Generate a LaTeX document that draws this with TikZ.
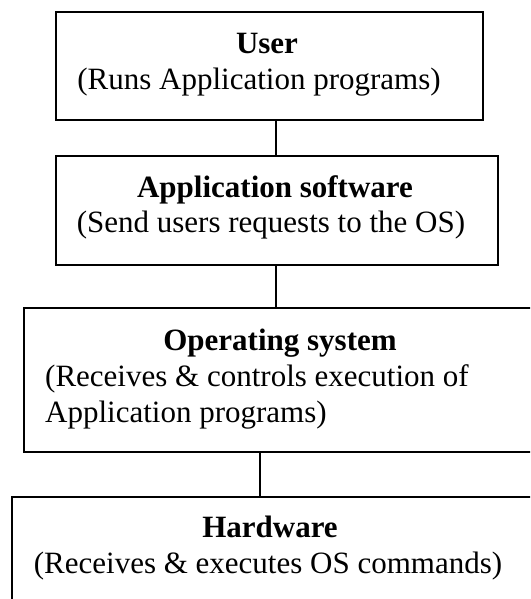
\documentclass[tikz,border=0pt]{standalone}
\usepackage{fontspec}
\setmainfont{Liberation Serif}
\usepackage{tikz}
\usetikzlibrary{positioning}

\begin{document}
\begin{tikzpicture}[
  x=1pt, y=-1pt,
  every node/.style={font=\fontsize{31}{36}\selectfont, inner sep=0pt},
  box/.style={draw, line width=1.6pt, anchor=north west, minimum width=#1},
  head/.style={font=\fontsize{31}{36}\selectfont\bfseries, anchor=base},
  note/.style={anchor=base},
  link/.style={line width=1.6pt}
]
\useasboundingbox (0,0) rectangle (530,599);
\clip (0,0) rectangle (530,599);
% boxes
\node[box=427pt, minimum height=108pt] (user) at (55,11)  {};
\node[box=442pt, minimum height=109pt] (app)  at (55,155) {};
\node[box=530pt, minimum height=144pt] (os)   at (23,307) {};
\node[box=545pt, minimum height=130pt] (hw)   at (11,496) {};
% texts
\node[head] (usert) at (267,54)  {User};
\node[note] (users) at (259,90)  {(Runs Application programs)};
\node[head] (appt)  at (275,197) {Application software};
\node[note] (apps)  at (271,232) {(Send users requests to the OS)};
\node[head] (ost)   at (280,350) {Operating system};
\node[note, anchor=base west] (osa) at (45,386) {(Receives \& controls execution of};
\node[note, anchor=base west] (osb) at (45,422) {Application programs)};
\node[head] (hwt)   at (270,537) {Hardware};
\node[note] (hws)   at (268,573) {(Receives \& executes OS commands)};
% links
\coordinate (j1) at (276,0);
\coordinate (j2) at (260,0);
\draw[link] (user.south -| j1) -- (app.north -| j1);
\draw[link] (app.south -| j1) -- (os.north -| j1);
\draw[link] (os.south -| j2) -- (hw.north -| j2);
\end{tikzpicture}
\end{document}
